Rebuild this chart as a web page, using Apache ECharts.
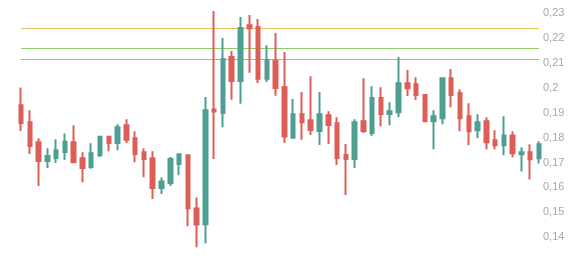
<!DOCTYPE html>
<html>
<head>
<meta charset="utf-8">
<script src="https://cdn.jsdelivr.net/npm/echarts@6/dist/echarts.min.js"></script>
<style>
html,body{margin:0;padding:0;background:#fff;}
#c{width:584px;height:258px;}
</style>
</head>
<body>
<div id="c"></div>
<script>
const categories = Array.from({length: 60}, (_, i) => String(i + 1));
const opens  = [0.1930,0.1862,0.1781,0.1706,0.1718,0.1742,0.1781,0.1717,0.1682,0.1729,
                0.1804,0.1778,0.1850,0.1797,0.1741,0.1717,0.1597,0.1617,0.1694,0.1729,
                0.1515,0.1452,0.1913,0.1899,0.2124,0.2028,0.2252,0.2245,0.2037,0.2108,
                0.2003,0.1799,0.1894,0.1870,0.1827,0.1890,0.1858,0.1730,0.1714,0.1866,
                0.1819,0.1959,0.1895,0.1902,0.2019,0.2015,0.1971,0.1866,0.1878,0.2039,
                0.1979,0.1886,0.1830,0.1866,0.1789,0.1769,0.1809,0.1733,0.1741,0.1717];
const closes = [0.1859,0.1766,0.1706,0.1726,0.1749,0.1783,0.1701,0.1678,0.1737,0.1804,
                0.1778,0.1842,0.1791,0.1734,0.1714,0.1597,0.1624,0.1714,0.1733,0.1516,
                0.1451,0.1910,0.1905,0.2116,0.2028,0.2241,0.2240,0.2037,0.2112,0.2000,
                0.1805,0.1894,0.1862,0.1831,0.1894,0.1851,0.1718,0.1714,0.1862,0.1827,
                0.1959,0.1895,0.1906,0.2019,0.1999,0.1971,0.1866,0.1886,0.2039,0.1971,
                0.1878,0.1826,0.1862,0.1781,0.1769,0.1809,0.1737,0.1741,0.1713,0.1773];
const lows   = [0.1827,0.1734,0.1605,0.1678,0.1698,0.1710,0.1698,0.1621,0.1675,0.1722,
                0.1745,0.1749,0.1778,0.1701,0.1641,0.1553,0.1573,0.1605,0.1649,0.1444,
                0.1359,0.1375,0.1714,0.1842,0.1952,0.1936,0.2061,0.2020,0.2024,0.1968,
                0.1778,0.1795,0.1791,0.1811,0.1770,0.1774,0.1690,0.1569,0.1678,0.1819,
                0.1807,0.1846,0.1850,0.1882,0.1967,0.1951,0.1862,0.1753,0.1854,0.1922,
                0.1826,0.1769,0.1797,0.1753,0.1753,0.1729,0.1721,0.1664,0.1632,0.1696];
const highs  = [0.2002,0.1910,0.1797,0.1757,0.1793,0.1817,0.1850,0.1741,0.1777,0.1805,
                0.1805,0.1854,0.1874,0.1826,0.1757,0.1745,0.1640,0.1722,0.1737,0.1729,
                0.1559,0.1963,0.2309,0.2201,0.2148,0.2285,0.2293,0.2277,0.2172,0.2221,
                0.2144,0.1955,0.1983,0.2047,0.1983,0.1906,0.1882,0.1774,0.1874,0.2039,
                0.2007,0.2003,0.1942,0.2124,0.2072,0.2043,0.1975,0.1910,0.2039,0.2076,
                0.1995,0.1938,0.1894,0.1882,0.1830,0.1886,0.1826,0.1761,0.1773,0.1785];
const yellowLevels = [0.2240];
const greenLevels = [0.2159, 0.2115];
const yTicks = {min: 0.13, max: 0.24, interval: 0.01};

const candleData = categories.map((c, i) => [opens[i], closes[i], lows[i], highs[i]]);
const markData = yellowLevels.map(v => ({yAxis: v, lineStyle: {color: '#e8c25c', width: 1, type: 'solid'}}))
  .concat(greenLevels.map(v => ({yAxis: v, lineStyle: {color: '#8ccd6c', width: 1, type: 'solid'}})));

const chart = echarts.init(document.getElementById('c'), null, {renderer: 'canvas'});
chart.setOption({
  animation: false,
  backgroundColor: '#ffffff',
  grid: {left: 21, right: 45, top: -11.56, height: 273.5, outerBoundsMode: 'none', containLabel: false},
  xAxis: {
    type: 'category',
    data: categories,
    boundaryGap: false,
    axisLine: {show: false},
    axisTick: {show: false},
    axisLabel: {show: false},
    splitLine: {show: false}
  },
  yAxis: {
    type: 'value',
    position: 'right',
    min: yTicks.min,
    max: yTicks.max,
    interval: yTicks.interval,
    axisLine: {show: false},
    axisTick: {show: false},
    splitLine: {show: false},
    axisLabel: {
      showMinLabel: false,
      showMaxLabel: false,
      margin: 4,
      color: '#a8a8a8',
      fontSize: 11,
      fontFamily: 'Liberation Sans, Arial, sans-serif',
      formatter: v => String(Math.round(v * 100) / 100).replace('.', ',')
    }
  },
  series: [
    {
      type: 'candlestick',
      z: 2,
      data: candleData,
      barWidth: 4,
      itemStyle: {
        color: '#4d9f92',
        color0: '#dd5e57',
        borderColor: '#4d9f92',
        borderColor0: '#dd5e57',
        borderWidth: 2
      },
      markLine: {
        z: 1,
        silent: true,
        symbol: 'none',
        precision: 4,
        label: {show: false},
        lineStyle: {type: 'solid', width: 1},
        data: markData
      }
    }
  ]
});
</script>
</body>
</html>
